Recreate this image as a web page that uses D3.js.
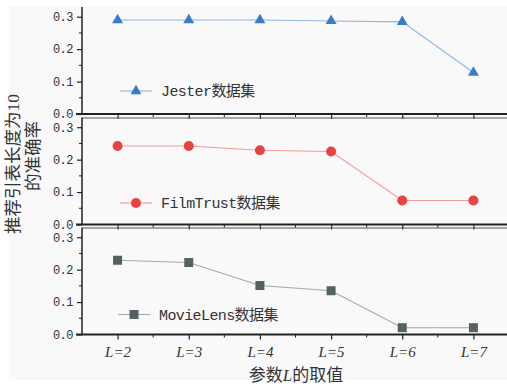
<!DOCTYPE html>
<html>
<head>
<meta charset="utf-8">
<script src="https://cdn.jsdelivr.net/npm/d3@7/dist/d3.min.js"></script>
<style>
  html, body { margin: 0; padding: 0; background: #ffffff; }
  svg { display: block; }
</style>
</head>
<body>
<svg id="chart" width="507" height="387"></svg>
<script>
// Parameter L values (x axis categories)
const categories = ["2", "3", "4", "5", "6", "7"];

// Accuracy of top-10 recommendation lists per dataset
const jesterValues    = [0.290, 0.290, 0.290, 0.287, 0.284, 0.128];
const filmTrustValues = [0.242, 0.242, 0.229, 0.225, 0.074, 0.074];
const movieLensValues = [0.229, 0.222, 0.151, 0.135, 0.021, 0.021];

const seriesNames = ["Jester数据集", "FilmTrust数据集", "MovieLens数据集"];
const yTicks = [0, 0.1, 0.2, 0.3];
const yTickLabels = ["0.0", "0.1", "0.2", "0.3"];

const series = [
  { name: seriesNames[0], values: jesterValues,    marker: "triangle", fill: "#3a7cc8", line: "#8fb6e4" },
  { name: seriesNames[1], values: filmTrustValues, marker: "circle",   fill: "#e8433f", line: "#f29b98" },
  { name: seriesNames[2], values: movieLensValues, marker: "square",   fill: "#556062", line: "#a5a8a8" }
];

const svg = d3.select("#chart");
const W = 507, H = 387;

// faint page tint behind the plotting area
svg.append("rect").attr("x", 9).attr("y", 6).attr("width", W - 9).attr("height", 374)
  .attr("fill", "#f9f9f9");

const left = 82, right = 509;
const panelTops = [7, 117.5, 227.5];
const panelH = 107;
const legendDy = [84, 85.5, 87];
const legendDx = [0, 0, -2];

const x = d3.scalePoint().domain(categories).range([left, right]).padding(0.5);
const step = x.step();

const monoFont = "'Liberation Mono', 'Noto Sans CJK SC', monospace";
const axisColor = "#222";

series.forEach((s, i) => {
  const top = panelTops[i];
  const bottom = top + panelH;
  const y = d3.scaleLinear().domain([0, 0.33]).range([bottom, top]);
  const g = svg.append("g");

  // top frame line for lower panels
  if (i > 0) {
    g.append("line").attr("x1", left).attr("x2", W).attr("y1", top + 0.5).attr("y2", top + 0.5)
      .attr("stroke", "#555").attr("stroke-width", 1);
  }

  // y axis with minor ticks
  const yAxis = d3.axisLeft(y).tickValues(yTicks).tickSize(5).tickPadding(4)
    .tickFormat((d, k) => yTickLabels[k]);
  const ya = g.append("g").attr("transform", `translate(${left},0)`).call(yAxis);
  ya.select(".domain").attr("stroke", axisColor).attr("stroke-width", 1.5)
    .attr("d", `M0,${bottom}V${top}`);
  ya.selectAll(".tick line").attr("stroke", axisColor).attr("stroke-width", 1.2);
  ya.selectAll(".tick text").attr("font-family", monoFont).attr("font-size", 12)
    .attr("letter-spacing", -0.5).attr("fill", "#333");
  const yMinor = [0.05, 0.15, 0.25];
  g.append("g").selectAll("line").data(yMinor).join("line")
    .attr("x1", left - 3).attr("x2", left).attr("y1", d => y(d)).attr("y2", d => y(d))
    .attr("stroke", axisColor).attr("stroke-width", 1);

  // x axis with minor ticks
  const xAxis = d3.axisBottom(x).tickSize(5).tickPadding(7)
    .tickFormat(d => "L=" + d);
  const xa = g.append("g").attr("transform", `translate(0,${bottom})`).call(xAxis);
  xa.select(".domain").attr("stroke", axisColor).attr("stroke-width", 1.8)
    .attr("d", `M${left - 6},0H${W}`);
  xa.selectAll(".tick line").attr("stroke", axisColor).attr("stroke-width", 1.2);
  if (i < 2) {
    xa.selectAll(".tick text").remove();
  } else {
    xa.selectAll(".tick text").attr("font-family", "'Liberation Serif', serif")
      .attr("font-style", "italic").attr("font-size", 15).attr("fill", "#333");
  }
  const xMinor = categories.map(c => x(c) + step / 2)
    .filter(v => v > left + 1 && v < W);
  g.append("g").selectAll("line").data(xMinor).join("line")
    .attr("x1", d => d).attr("x2", d => d).attr("y1", bottom).attr("y2", bottom + 3)
    .attr("stroke", axisColor).attr("stroke-width", 1);

  // series line
  const lineGen = d3.line().x((d, k) => x(categories[k])).y(d => y(d));
  g.append("path").datum(s.values).attr("d", lineGen)
    .attr("fill", "none").attr("stroke", s.line).attr("stroke-width", 1.1);

  const drawMarker = (sel) => {
    if (s.marker === "triangle") {
      sel.append("path").attr("d", d3.symbol(d3.symbolTriangle, 52)).attr("fill", s.fill);
    } else if (s.marker === "circle") {
      sel.append("circle").attr("r", 5).attr("fill", s.fill);
    } else {
      sel.append("rect").attr("x", -4.5).attr("y", -4.5).attr("width", 9).attr("height", 9)
        .attr("fill", s.fill);
    }
  };

  g.append("g").selectAll("g").data(s.values).join("g")
    .attr("transform", (d, k) => `translate(${x(categories[k])},${y(d)})`)
    .each(function () { drawMarker(d3.select(this)); });

  // legend
  const ly = top + legendDy[i];
  const lx = 120 + legendDx[i];
  const lg = svg.append("g");
  lg.append("line").attr("x1", lx).attr("x2", lx + 32).attr("y1", ly).attr("y2", ly)
    .attr("stroke", s.line).attr("stroke-width", 1.1);
  const m = lg.append("g").attr("transform", `translate(${lx + 16},${ly})`);
  drawMarker(m);
  lg.append("text").attr("x", lx + 41).attr("y", ly + 5).text(s.name)
    .attr("font-family", monoFont).attr("font-size", 15).attr("letter-spacing", -0.6)
    .attr("fill", "#333");
});

// y axis title (two lines, rotated)
const yTitle = svg.append("text")
  .attr("transform", "translate(13,164) rotate(-90)")
  .attr("text-anchor", "middle")
  .attr("font-family", "'Liberation Serif', 'Noto Sans CJK SC', serif")
  .attr("font-size", 17.5).attr("fill", "#333");
yTitle.append("tspan").attr("x", 0).attr("y", 6).text("推荐引表长度为10");
yTitle.append("tspan").attr("x", 8).attr("y", 26).text("的准确率");

// x axis title
const xTitle = svg.append("text").attr("x", 296).attr("y", 381).attr("text-anchor", "middle")
  .attr("font-family", "'Liberation Serif', 'Noto Sans CJK SC', serif")
  .attr("font-size", 17).attr("fill", "#333");
xTitle.append("tspan").text("参数");
xTitle.append("tspan").attr("font-style", "italic").text("L");
xTitle.append("tspan").text("的取值");
</script>
</body>
</html>
